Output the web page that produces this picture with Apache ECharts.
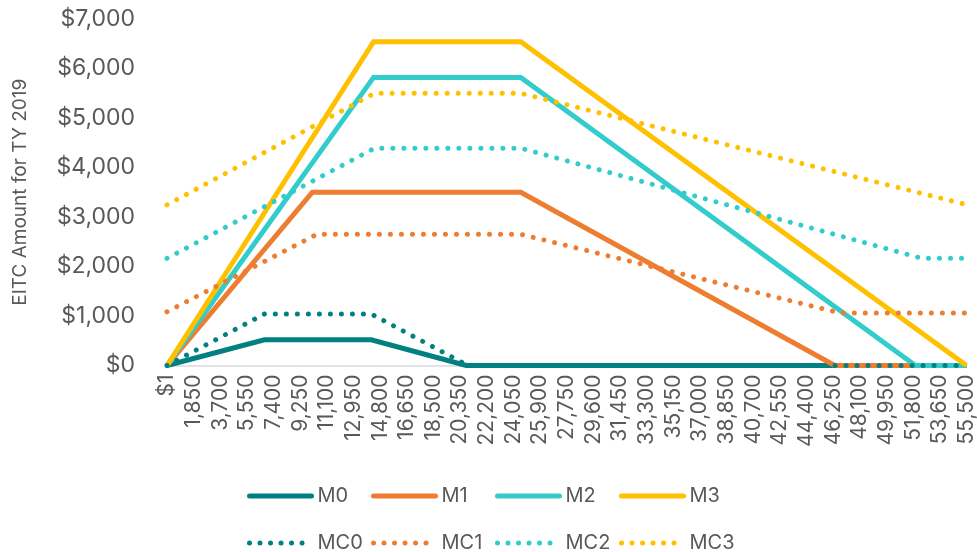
<!DOCTYPE html>
<html>
<head>
<meta charset="utf-8">
<script src="https://cdn.jsdelivr.net/npm/echarts@6/dist/echarts.min.js"></script>
<style>
  html, body { margin: 0; padding: 0; background: #fff; }
  #chart { width: 977px; height: 552px; }
</style>
</head>
<body>
<div id="chart"></div>
<script>
// ---- Data (income in $, EITC amount in $) ----
const seriesNames = ['M0', 'M1', 'M2', 'M3', 'MC0', 'MC1', 'MC2', 'MC3'];
const seriesColors = ['#008080', '#ED7D31', '#33CCCC', '#FFC000', '#008080', '#ED7D31', '#33CCCC', '#FFC000'];

const m0Income = [1, 6760, 14180, 20770, 55500];
const m0Credit = [0, 520, 520, 0, 0];
const m1Income = [1, 10090, 24560, 46350, 55500];
const m1Credit = [0, 3500, 3500, 0, 0];
const m2Income = [1, 14340, 24560, 51950, 55500];
const m2Credit = [0, 5820, 5820, 0, 0];
const m3Income = [1, 14340, 24560, 55500];
const m3Credit = [0, 6540, 6540, 0];

const mc0Income = [1, 6760, 14180, 20890, 55500];
const mc0Credit = [0, 1040, 1040, 0, 0];
const mc1Income = [1, 10410, 24560, 46740, 55500];
const mc1Credit = [1085, 2650, 2650, 1060, 1060];
const mc2Income = [1, 14410, 24560, 52390, 55500];
const mc2Credit = [2165, 4390, 4390, 2165, 2165];
const mc3Income = [1, 14410, 24560, 55500];
const mc3Credit = [3245, 5500, 5500, 3250];

// axis ticks
const xTickStep = 1850;
const xMax = 55500;
const yTickStep = 1000;
const yMax = 7000;
const yTitle = 'EITC Amount for TY 2019';

const incomeArrays = [m0Income, m1Income, m2Income, m3Income, mc0Income, mc1Income, mc2Income, mc3Income];
const creditArrays = [m0Credit, m1Credit, m2Credit, m3Credit, mc0Credit, mc1Credit, mc2Credit, mc3Credit];

const fmt = v => Math.round(v).toLocaleString('en-US');
const FONT = 'Inter, "Noto Sans", sans-serif';
const TEXT = '#595959';

const series = seriesNames.map((name, i) => {
  const dotted = name.startsWith('MC');
  return {
    name: name,
    type: 'line',
    data: incomeArrays[i].map((x, k) => [x, creditArrays[i][k]]),
    symbol: 'none',
    showSymbol: false,
    animation: false,
    z: dotted ? 3 : 2,
    color: seriesColors[i],
    lineStyle: dotted
      ? { width: 5, color: seriesColors[i], type: [0.01, 11], cap: 'round', join: 'round' }
      : { width: 5, color: seriesColors[i], type: 'solid', cap: 'butt', join: 'miter' }
  };
});

const colX = [247, 371, 495, 619];
const legends = seriesNames.map((name, i) => {
  const dotted = name.startsWith('MC');
  const col = i % 4;
  return {
    data: [name],
    left: colX[col],
    top: dotted ? 533 : 486,
    itemWidth: 62,
    itemHeight: 14,
    itemGap: 5,
    padding: 0,
    selectedMode: false,
    itemStyle: { opacity: 0 },
    lineStyle: dotted
      ? { width: 5, type: [0.01, 10.5], cap: 'round' }
      : { width: 5, type: 'solid', cap: 'round' },
    textStyle: { fontFamily: FONT, fontSize: 20, color: TEXT, padding: [0, 0, 0, 1] }
  };
});

const chart = echarts.init(document.getElementById('chart'), null, { renderer: 'canvas' });
chart.setOption({
  animation: false,
  backgroundColor: '#ffffff',
  textStyle: { fontFamily: FONT },
  grid: { left: 167, right: 5, top: 19, bottom: 186.5, containLabel: false },
  legend: legends,
  xAxis: {
    type: 'value',
    min: 0,
    max: xMax,
    interval: xTickStep,
    axisLine: { show: true, lineStyle: { color: '#D9D9D9', width: 1.5 } },
    axisTick: { show: false },
    splitLine: { show: false },
    axisLabel: {
      rotate: 90,
      margin: 9,
      fontFamily: FONT,
      fontSize: 21,
      color: TEXT,
      formatter: v => (v === 0 ? '$1' : fmt(v))
    }
  },
  yAxis: {
    type: 'value',
    min: 0,
    max: yMax,
    interval: yTickStep,
    name: yTitle,
    nameLocation: 'middle',
    nameRotate: 90,
    nameGap: 137,
    nameTextStyle: { fontFamily: FONT, fontSize: 19, color: TEXT },
    axisLine: { show: false },
    axisTick: { show: false },
    splitLine: { show: false },
    axisLabel: {
      margin: 32,
      fontFamily: FONT,
      fontSize: 23,
      color: TEXT,
      formatter: v => '$' + fmt(v)
    }
  },
  series: series
});
</script>
</body>
</html>
